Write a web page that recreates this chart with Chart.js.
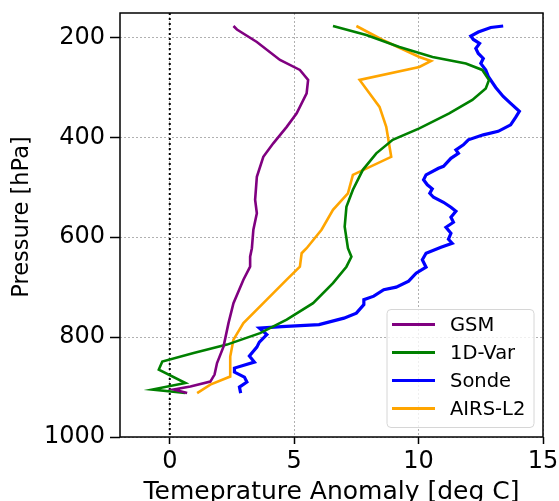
<!DOCTYPE html>
<html>
<head>
<meta charset="utf-8">
<script src="https://cdn.jsdelivr.net/npm/chart.js@4"></script>
<style>
  html, body { margin: 0; padding: 0; background: #fff; }
</style>
</head>
<body>
<canvas id="grafico" width="559" height="501"></canvas>
<script>
// Perfis de anomalia de temperatura (deg C) por nivel de pressao (hPa)
const gsmP = [177, 184, 209, 245, 265, 285, 312, 352, 379, 412, 439, 479, 525, 552, 585, 622, 639, 659, 685, 732, 772, 819, 852, 875, 889, 899, 905, 912]
const gsmT = [2.56, 2.7, 3.5, 4.43, 5.23, 5.56, 5.5, 5.1, 4.7, 4.16, 3.76, 3.5, 3.43, 3.5, 3.36, 3.3, 3.23, 3.23, 2.96, 2.56, 2.36, 2.16, 1.9, 1.8, 1.63, 0.83, 0.16, 0.7]

const varP = [177, 195, 219, 239, 252, 265, 285, 302, 325, 352, 382, 405, 432, 465, 505, 539, 579, 622, 639, 659, 692, 732, 765, 792, 815, 832, 849, 865, 892, 905, 912]
const varT = [6.56, 7.9, 9.23, 10.56, 11.9, 12.56, 12.83, 12.7, 12.16, 11.23, 10.03, 8.96, 8.3, 7.76, 7.36, 7.1, 7.03, 7.16, 7.3, 7.1, 6.56, 5.76, 4.7, 3.63, 2.3, 0.96, -0.3, -0.44, 0.63, -0.7, 0.63]

const sondeP = [177, 180, 189, 197, 204, 212, 222, 232, 242, 252, 265, 278, 300, 318, 332, 348, 360, 375, 388, 395, 405, 415, 425, 432, 442, 458, 462, 475, 485, 495, 503, 512, 520, 530, 540, 548, 560, 570, 580, 592, 604, 612, 620, 632, 645, 660, 672, 688, 700, 705, 718, 725, 735, 752, 762, 775, 779, 782, 795, 810, 820, 838, 850, 862, 870, 880, 890, 900, 912]
const sondeT = [13.4, 12.9, 12.4, 12.1, 12.2, 12.45, 12.3, 12.4, 12.6, 12.5, 12.7, 12.8, 13.1, 13.4, 13.7, 14.05, 13.9, 13.7, 13.2, 12.6, 12.0, 11.8, 11.5, 11.6, 11.3, 11.0, 10.8, 10.3, 10.2, 10.35, 10.55, 10.45, 10.6, 11.0, 11.3, 11.5, 11.3, 11.4, 11.1, 11.3, 11.2, 11.35, 10.9, 10.3, 10.15, 10.3, 9.9, 9.6, 9.1, 8.6, 8.2, 7.8, 7.8, 7.5, 7.0, 6.0, 4.5, 3.6, 3.9, 3.6, 3.5, 3.2, 3.4, 2.6, 2.6, 3.0, 3.1, 2.8, 2.85]

const airsP = [177, 205, 239, 247, 259, 285, 339, 379, 439, 475, 512, 545, 585, 622, 632, 659, 685, 732, 772, 805, 839, 879, 895, 912]
const airsT = [7.5, 8.56, 10.03, 10.5, 10.03, 7.63, 8.43, 8.7, 8.9, 7.36, 7.16, 6.56, 6.1, 5.5, 5.3, 5.23, 4.7, 3.76, 2.96, 2.56, 2.43, 2.43, 1.63, 1.1]

const nomes = ['GSM', '1D-Var', 'Sonde', 'AIRS-L2']
const cores = ['purple', 'green', 'blue', 'orange']

const xTicks = [0, 5, 10, 15]
const yTicks = [200, 400, 600, 800, 1000]

function montarPontos(temps, pressoes) {
    return temps.map((t, i) => ({ x: t, y: pressoes[i] }))
}

const series = [
    montarPontos(gsmT, gsmP),
    montarPontos(varT, varP),
    montarPontos(sondeT, sondeP),
    montarPontos(airsT, airsP)
]

const fonte = 'DejaVu Sans'

// linha pontilhada em x = 0
const linhaZero = {
    id: 'linhaZero',
    beforeDatasetsDraw(chart) {
        const ctx = chart.ctx
        const area = chart.chartArea
        const x = chart.scales.x.getPixelForValue(0)
        ctx.save()
        ctx.strokeStyle = '#000'
        ctx.lineWidth = 2
        ctx.setLineDash([2, 3])
        ctx.beginPath()
        ctx.moveTo(x, area.top)
        ctx.lineTo(x, area.bottom)
        ctx.stroke()
        ctx.restore()
    }
}

// moldura em volta da area do grafico + titulo do eixo y
const moldura = {
    id: 'moldura',
    afterDatasetsDraw(chart) {
        const ctx = chart.ctx
        const a = chart.chartArea
        ctx.save()
        ctx.strokeStyle = '#000'
        ctx.lineWidth = 1.5
        ctx.strokeRect(a.left, a.top, a.right - a.left, a.bottom - a.top)
        ctx.restore()
    },
    afterDraw(chart) {
        const ctx = chart.ctx
        const a = chart.chartArea
        ctx.save()
        ctx.translate(22.5, (a.top + a.bottom) / 2 - 8)
        ctx.rotate(-Math.PI / 2)
        ctx.font = '22.5px "' + fonte + '"'
        ctx.fillStyle = '#000'
        ctx.textAlign = 'center'
        ctx.textBaseline = 'middle'
        ctx.fillText('Pressure [hPa]', 0, 0)
        ctx.restore()
    }
}

// legenda no canto inferior direito
const legenda = {
    id: 'legenda',
    afterDraw(chart) {
        const ctx = chart.ctx
        const a = chart.chartArea
        const w = 147, h = 118
        const x0 = a.right - 9 - w
        const y0 = a.bottom - 9.5 - h
        ctx.save()
        ctx.fillStyle = 'rgba(255,255,255,0.8)'
        ctx.strokeStyle = '#d6d6d6'
        ctx.lineWidth = 1
        ctx.beginPath()
        ctx.roundRect(x0, y0, w, h, 4)
        ctx.fill()
        ctx.stroke()
        ctx.font = '19.5px "' + fonte + '"'
        ctx.textBaseline = 'middle'
        chart.data.datasets.forEach((ds, i) => {
            const y = y0 + 15 + i * 28
            ctx.strokeStyle = ds.borderColor
            ctx.lineWidth = 3
            ctx.beginPath()
            ctx.moveTo(x0 + 5, y)
            ctx.lineTo(x0 + 48, y)
            ctx.stroke()
            ctx.fillStyle = '#000'
            ctx.fillText(ds.label, x0 + 63, y + 1)
        })
        ctx.restore()
    }
}

const ctx = document.getElementById('grafico')

new Chart(ctx, {
    type: 'line',
    data: {
        datasets: series.map((pts, i) => ({
            label: nomes[i],
            data: pts,
            borderColor: cores[i],
            backgroundColor: cores[i],
            borderWidth: i == 2 ? 3.2 : 2.6,
            pointRadius: 0,
            tension: 0,
            fill: false
        }))
    },
    options: {
        responsive: false,
        animation: false,
        devicePixelRatio: 1,
        layout: { padding: { top: 13, right: 16, left: 0, bottom: 0 } },
        plugins: {
            legend: { display: false },
            tooltip: { enabled: false }
        },
        scales: {
            x: {
                type: 'linear',
                min: -2,
                max: 15,
                afterBuildTicks: s => { s.ticks = xTicks.map(v => ({ value: v })) },
                afterFit: s => { s.height = 64; s.paddingLeft = 0; s.paddingRight = 0 },
                grid: { color: '#b0b0b0', lineWidth: 1, tickColor: '#000', tickLength: 7, tickWidth: 1.5, tickBorderDash: [] },
                border: { display: false, dash: [2, 2] },
                ticks: { color: '#000', font: { family: fonte, size: 24 }, padding: 3, maxRotation: 0, callback: v => String(v) },
                title: { display: true, text: 'Temeprature Anomaly [deg C]', color: '#000', font: { family: fonte, size: 25 }, padding: { top: 0, bottom: -6 } }
            },
            y: {
                type: 'linear',
                reverse: true,
                min: 151,
                max: 1000,
                afterBuildTicks: s => { s.ticks = yTicks.map(v => ({ value: v })) },
                afterFit: s => { s.width = 120; s.paddingTop = 0; s.paddingBottom = 0 },
                grid: { color: '#b0b0b0', lineWidth: 1, tickColor: '#000', tickLength: 10, tickWidth: 1.5, tickBorderDash: [] },
                border: { display: false, dash: [2, 2] },
                ticks: { color: '#000', font: { family: fonte, size: 24 }, padding: 5, callback: v => String(v) }
            }
        }
    },
    plugins: [linhaZero, moldura, legenda]
})
</script>
</body>
</html>
